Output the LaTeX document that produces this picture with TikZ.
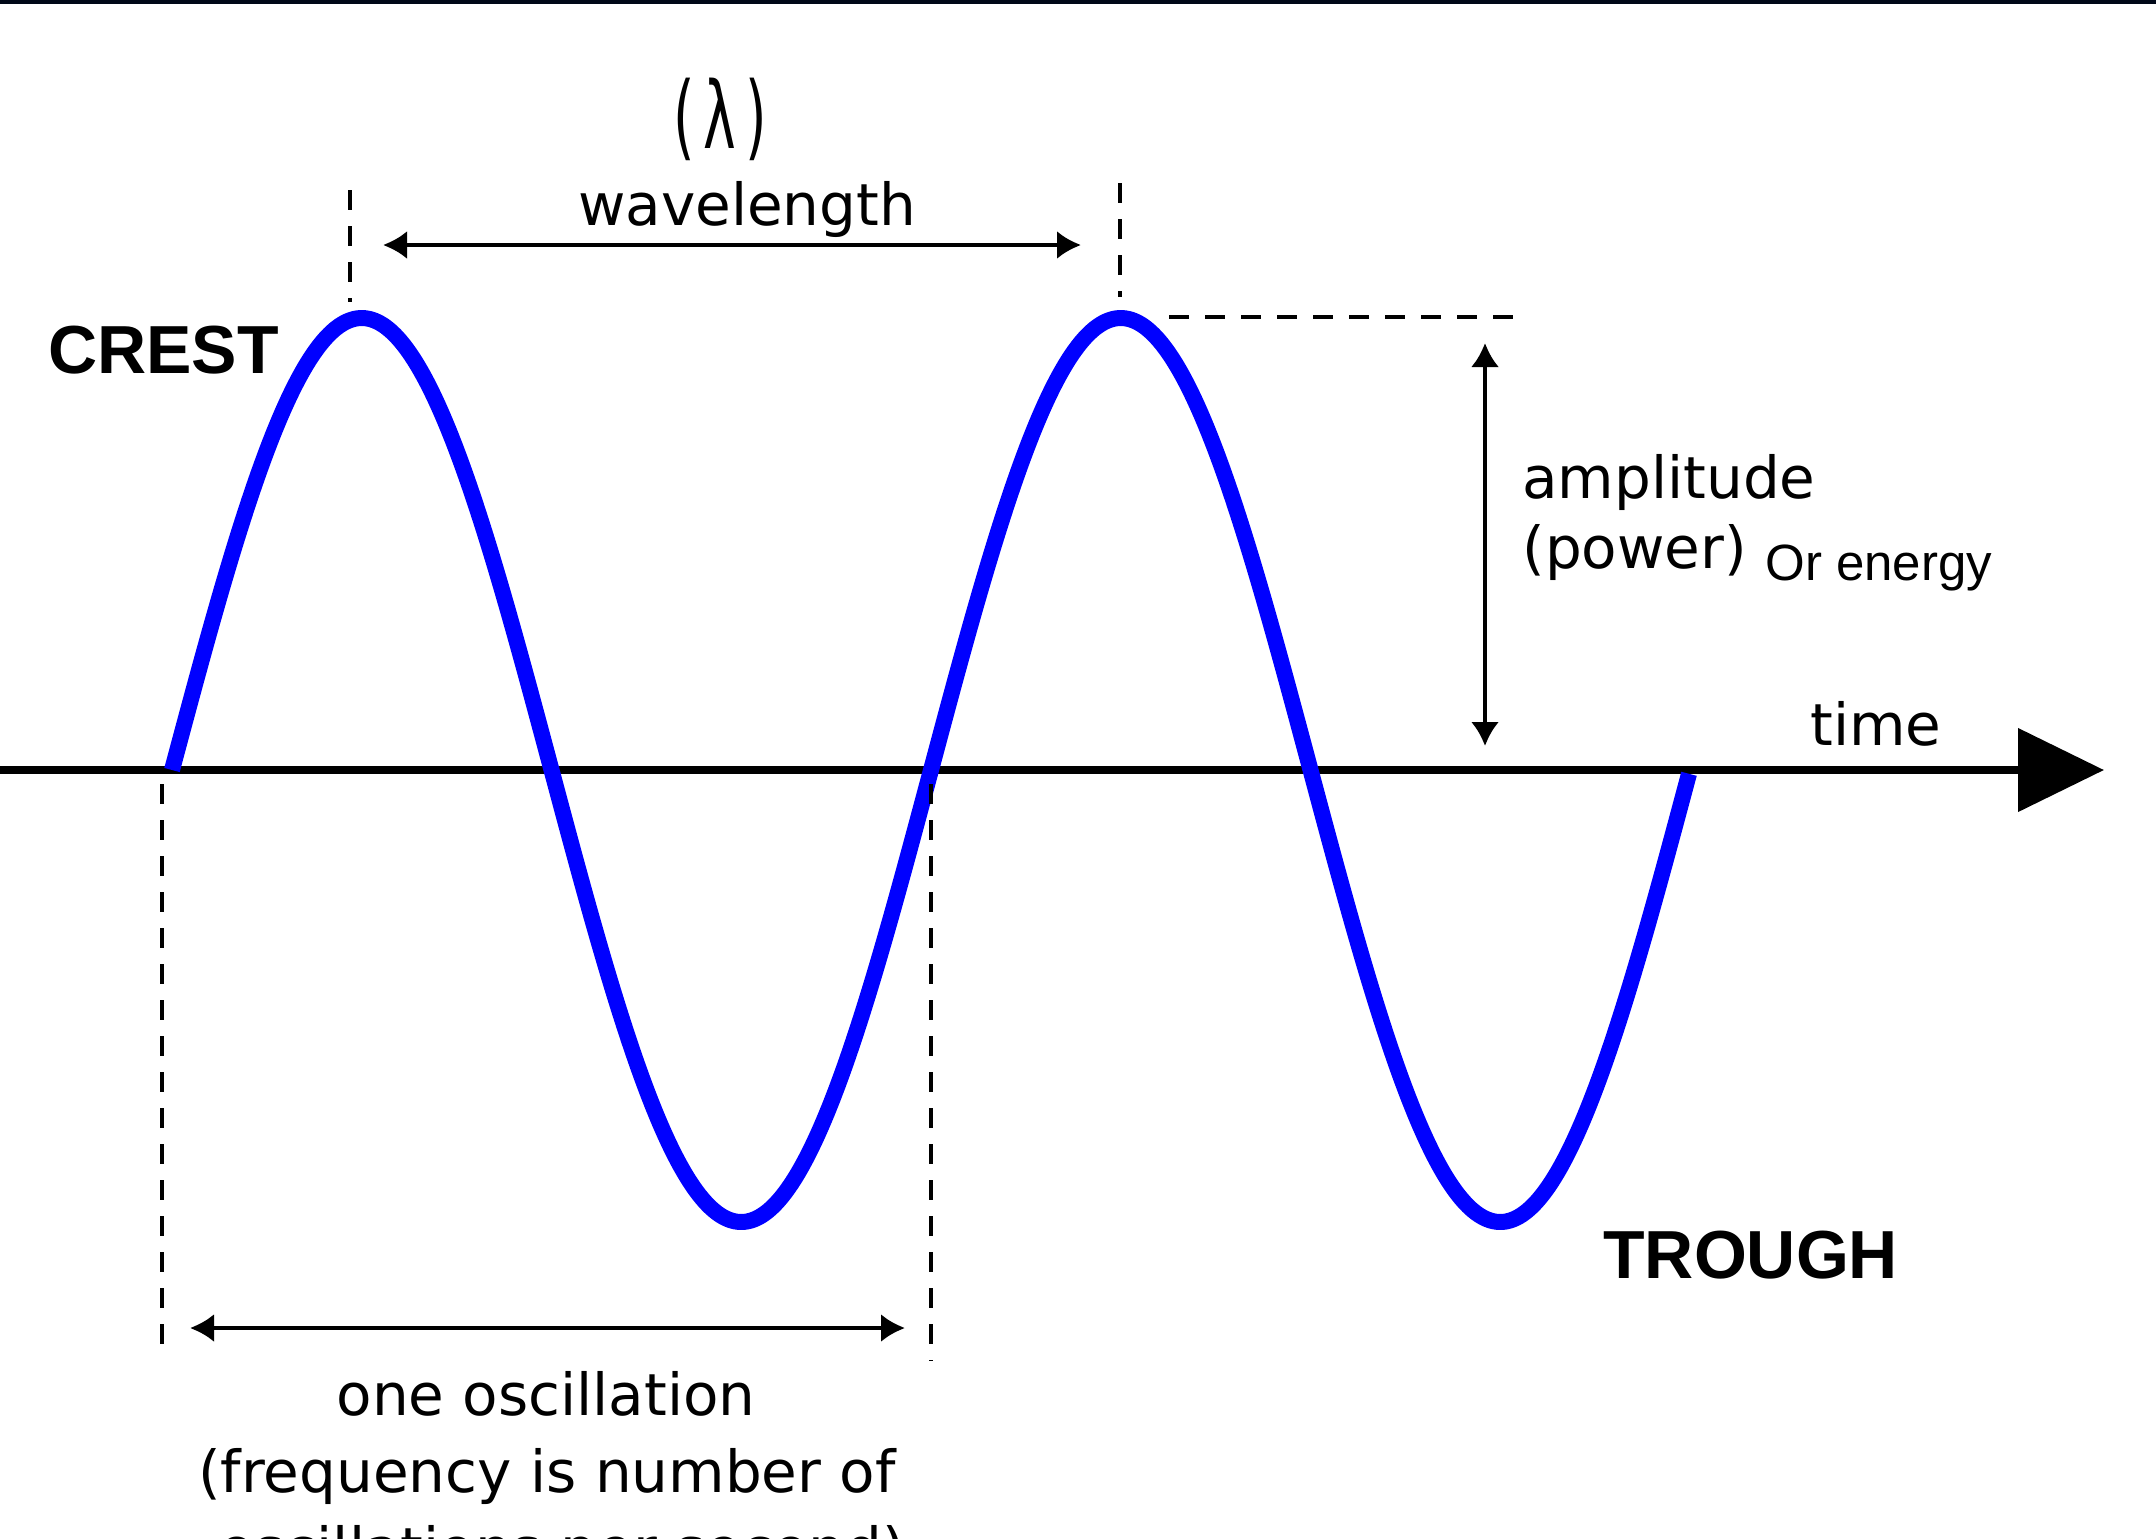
\documentclass[tikz,border=0pt]{standalone}
\usepackage{fontspec}
\setmainfont{Liberation Sans}
\newfontfamily\pixfont{DejaVu Sans}
\newfontfamily\arialfont{Liberation Sans}
\usetikzlibrary{arrows.meta}
\definecolor{wave}{RGB}{0,0,255}
\definecolor{topband}{RGB}{0,8,24}
\tikzset{
  pix/.style={font=\pixfont\fontsize{29pt}{34pt}\selectfont, inner sep=0pt},
  bigbold/.style={font=\arialfont\bfseries\fontsize{34pt}{40pt}\selectfont, inner sep=0pt},
  plain/.style={font=\arialfont\fontsize{25.5pt}{30pt}\selectfont, inner sep=0pt},
  dimarrow/.style={line width=2pt, {Latex[length=12pt,width=14pt]}-{Latex[length=12pt,width=14pt]}},
  guide/.style={line width=1.75pt, dash pattern=on 10pt off 8pt},
  wavecurve/.style={wave, line width=8pt, line join=round},
  axisline/.style={line width=4pt, -{Triangle[length=43pt,width=41pt]}}
}
\begin{document}
\begin{tikzpicture}[x=0.5pt,y=-0.5pt]
\useasboundingbox (0,0) rectangle (2156,1538);
\clip (0,0) rectangle (2156,1538);
\fill[white] (0,0) rectangle (2156,1538);
\fill[topband] (0,0) rectangle (2156,4);

% axis
\coordinate (axS) at (0,770);
\coordinate (axE) at (2104,770);
\draw[axisline] (axS) -- (axE);

% sine wave
\draw[wavecurve] plot[domain=172:1689, samples=300, smooth] (\x, {770 - 452*sin(0.474308*(\x-172))});

% wavelength guides
\coordinate (g1a) at (350,190); \coordinate (g1b) at (350,302);
\coordinate (g2a) at (1120,183); \coordinate (g2b) at (1120,297);
\draw[guide] (g1a) -- (g1b);
\draw[guide] (g2a) -- (g2b);
\coordinate (wlL) at (383,245); \coordinate (wlR) at (1081,245);
\draw[dimarrow] (wlL) -- (wlR);

% amplitude
\coordinate (hA) at (1169,317); \coordinate (hB) at (1526,317);
\draw[guide] (hA) -- (hB);
\coordinate (ampT) at (1485,343); \coordinate (ampB) at (1485,746);
\draw[dimarrow] (ampT) -- (ampB);

% oscillation guides
\coordinate (o1a) at (162,784); \coordinate (o1b) at (162,1348);
\coordinate (o2a) at (931,784); \coordinate (o2b) at (931,1361);
\draw[guide] (o1a) -- (o1b);
\draw[guide] (o2a) -- (o2b);
\coordinate (oscL) at (190,1328); \coordinate (oscR) at (905,1328);
\draw[dimarrow] (oscL) -- (oscR);

% labels
\node[pix] (lambda) at (720,119) {\scalebox{0.95}[1.6]{(\,λ\,)}};
\node[pix, anchor=base] (wl) at (747,225) {wavelength};
\node[pix, anchor=base west] (amp) at (1522,498) {amplitude};
\node[pix, anchor=base west] (pow) at (1522,568) {(power)};
\node[plain, anchor=base west] (energy) at (1765,580) {Or energy};
\node[pix, anchor=base west] (time) at (1810,745) {time};
\node[bigbold, anchor=base west] (crest) at (48,373) {CREST};
\node[bigbold, anchor=base west] (trough) at (1603,1278) {TROUGH};
\node[pix, anchor=base] (osc1) at (546,1415) {one oscillation};
\node[pix, anchor=base] (osc2) at (547,1492) {(frequency is number of};
\node[pix, anchor=base] (osc3) at (562,1569) {oscillations per second)};
\end{tikzpicture}
\end{document}
